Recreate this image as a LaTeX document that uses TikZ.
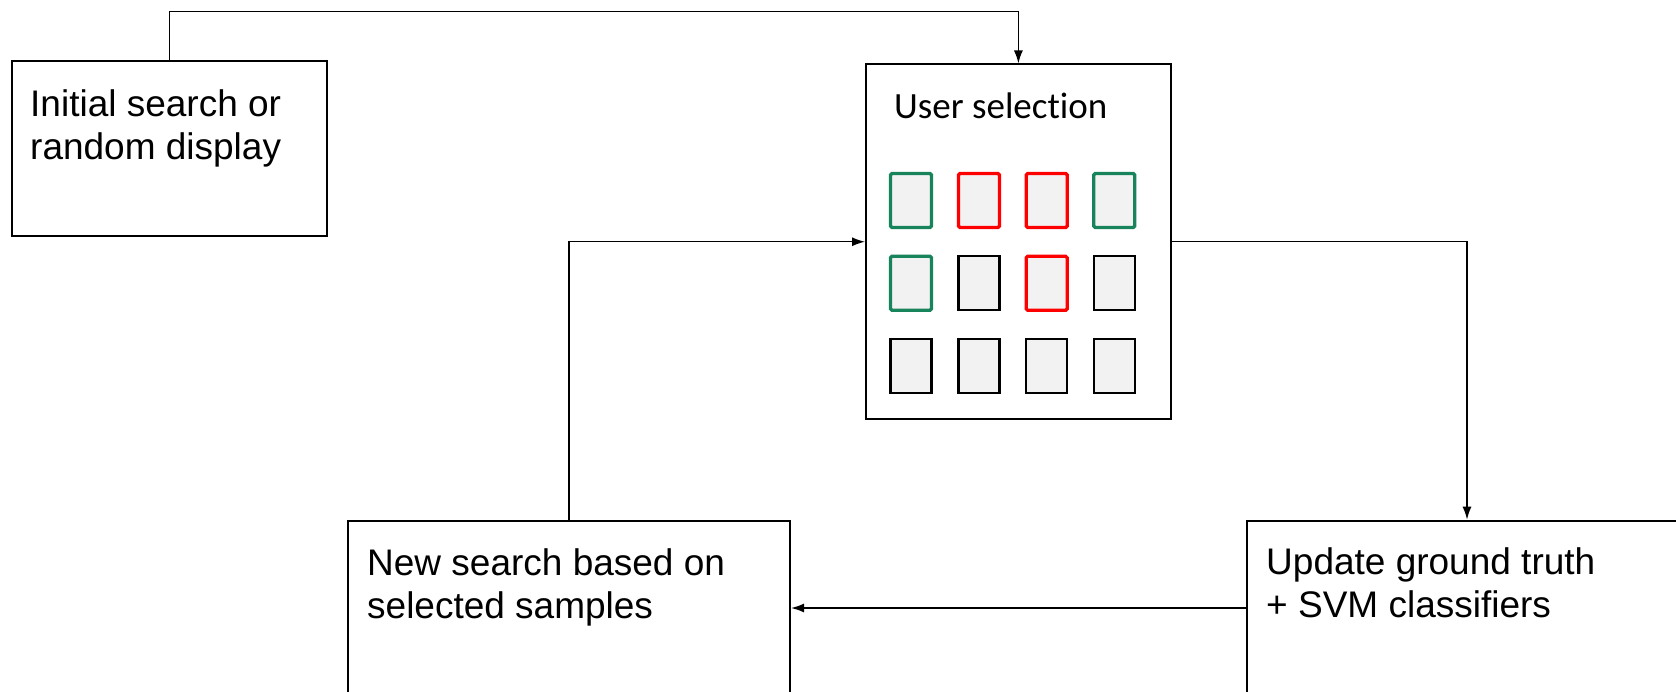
\documentclass[tikz,border=0pt]{standalone}
\usepackage{fontspec}
\setmainfont{Liberation Sans}
\newfontfamily\calibrifont[RawFeature=-liga]{Carlito}
\usetikzlibrary{arrows.meta}
\definecolor{selgreen}{RGB}{24,132,92}
\definecolor{selred}{RGB}{255,0,0}
\definecolor{tilegray}{RGB}{242,242,242}
\begin{document}
\begin{tikzpicture}[x=1pt,y=-1pt,
  mainbox/.style={draw=black, line width=2pt, inner sep=0pt, fill=white},
  boxtext/.style={anchor=base west, inner sep=0pt, align=left,
    font=\fontsize{37}{43}\selectfont},
  tile/.style={draw=black, fill=tilegray, line width=2.3pt, inner sep=0pt,
    minimum width=41pt, minimum height=54pt},
  gtile/.style={tile, draw=selgreen, line width=3.3pt, rounded corners=1.5pt},
  rtile/.style={tile, draw=selred, line width=3.3pt, rounded corners=1.5pt},
  arr/.style={line width=1.5pt, -{Latex[length=13pt,width=9pt]}}]
\useasboundingbox (0,0) rectangle (1676,692);
\clip (0,0) rectangle (1676,692);

% boxes
\node[mainbox, minimum width=315.6pt, minimum height=174.4pt] (init) at (169.5,148.5) {};
\node[mainbox, minimum width=304.7pt, minimum height=354.5pt] (user) at (1018.4,241.75) {};
\node[mainbox, minimum width=442pt, minimum height=174.6pt] (new) at (569,608) {};
\node[mainbox, minimum width=440.6pt, minimum height=174.6pt] (upd) at (1467,608) {};

% texts (base anchor = baseline of the last line)
\node[boxtext] (inittext) at (30,159.5) {Initial search or\\random display};
\node[boxtext] (newtext) at (367,618) {New search based on\\selected samples};
\node[boxtext] (updtext) at (1266,617) {Update ground truth\\+ SVM classifiers};
\node[anchor=base west, inner sep=0pt, font=\calibrifont\fontsize{37}{42}\selectfont] (usertext) at (894,118.3) {User selection};

% tiles
\node[gtile] (t11) at (911,200.5) {};
\node[rtile] (t12) at (979,200.5) {};
\node[rtile] (t13) at (1046.7,200.5) {};
\node[gtile] (t14) at (1114.3,200.5) {};
\node[gtile] (t21) at (911,283.3) {};
\node[tile]  (t22) at (979,283.3) {};
\node[rtile] (t23) at (1046.7,283.3) {};
\node[tile]  (t24) at (1114.3,283.3) {};
\node[tile]  (t31) at (911,366.2) {};
\node[tile]  (t32) at (979,366.2) {};
\node[tile]  (t33) at (1046.7,366.2) {};
\node[tile]  (t34) at (1114.3,366.2) {};

% connectors
\coordinate (topline) at (600,11.7);
\draw[arr] (init.north) |- (topline) -| (user.north);
\draw[arr] (new.north) |- (user.west);
\draw[arr] (user.east) -| (upd.north);
\draw[arr] (upd.west) -- (new.east);
\end{tikzpicture}
\end{document}
